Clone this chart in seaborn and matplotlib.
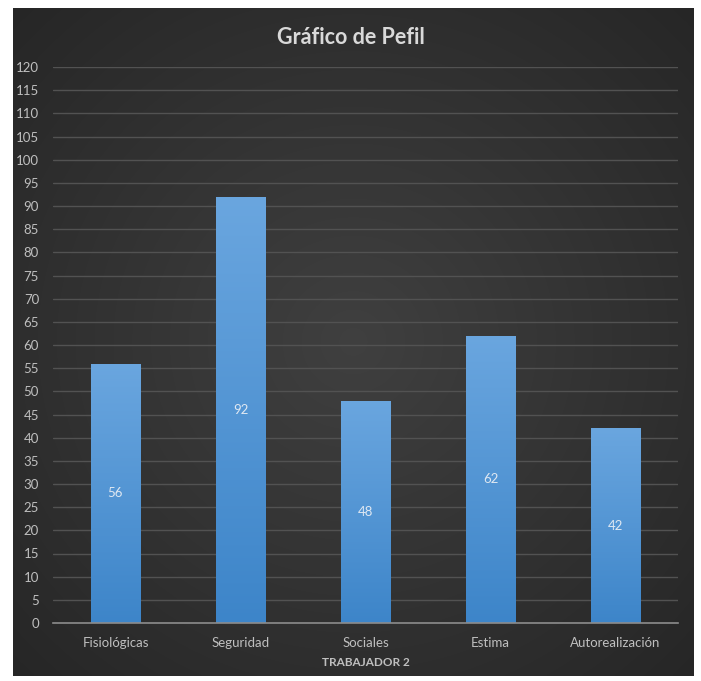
import numpy as np
import pandas as pd
import matplotlib
matplotlib.use("Agg")
import matplotlib.pyplot as plt
import seaborn as sns
from matplotlib.colors import LinearSegmentedColormap

categories = ["Fisiológicas", "Seguridad", "Sociales", "Estima", "Autorealización"]
values = [56, 92, 48, 62, 42]
yticks = list(range(0, 121, 5))
title = "Gráfico de Pefil"
xlabel = "TRABAJADOR 2"

sns.set_theme(style="dark")
plt.rcParams['font.family'] = ['Lato', 'DejaVu Sans']

W, H = 701, 681
fig = plt.figure(figsize=(W / 100, H / 100), dpi=100)
fig.patch.set_facecolor("white")

# background panel with radial gradient
bx0, by0, bx1, by1 = 13, 8, 694, 676
bg = fig.add_axes([bx0 / W, 1 - by1 / H, (bx1 - bx0) / W, (by1 - by0) / H])
yy, xx = np.mgrid[-1:1:300j, -1:1:300j]
r = np.sqrt(xx ** 2 + yy ** 2) / np.sqrt(2)
shade = 0.25 - 0.10 * r
img = np.dstack([shade, shade, shade])
bg.imshow(img, aspect="auto", extent=[0, 1, 0, 1], interpolation="bilinear")
bg.set_axis_off()

# plot area
px0, px1 = 53, 678
py_top, py_bot = 67, 623
ax = fig.add_axes([px0 / W, 1 - py_bot / H, (px1 - px0) / W, (py_bot - py_top) / H])
ax.set_facecolor("none")
ax.patch.set_alpha(0)

df = pd.DataFrame({"cat": categories, "val": values})
sns.barplot(data=df, x="cat", y="val", ax=ax, width=0.4, color="#5b9bd5",
            saturation=1, zorder=3, edgecolor="none", linewidth=0)
ax.set_ylim(0, 120)
ax.set_xlim(-0.5, len(categories) - 0.5)
ax.set_yticks(yticks)
ax.grid(axis="y", color="#525252", linewidth=1.0, zorder=0)
ax.grid(axis="x", visible=False)
for s in ["top", "right", "left"]:
    ax.spines[s].set_visible(False)
ax.spines["bottom"].set_color("#8c8c8c")
ax.spines["bottom"].set_linewidth(1.2)
ax.spines["bottom"].set_zorder(4)
ax.tick_params(axis="y", colors="#bfbfbf", labelsize=9.5, length=0, pad=10)
ax.tick_params(axis="x", colors="#bfbfbf", labelsize=9.5, length=0, pad=10)
ax.set_xlabel(xlabel, color="#bfbfbf", fontsize=8.5, fontweight="bold", labelpad=6)
ax.set_ylabel("")

# gradient fill on bars
grad = np.linspace(0, 1, 256).reshape(-1, 1)
cmap = LinearSegmentedColormap.from_list("bar", ["#3d85c9", "#6aa6df"])
for patch in list(ax.patches):
    x0 = patch.get_x(); w = patch.get_width(); h = patch.get_height()
    im = ax.imshow(grad, extent=[x0, x0 + w, 0, h], origin="lower", cmap=cmap,
                   aspect="auto", zorder=3.5)
    im.set_clip_path(patch)

for i, v in enumerate(values):
    ax.text(i, v / 2, str(v), ha="center", va="center", color="#dfe8f2", fontsize=9.5, zorder=5)

fig.text(0.5, 1 - 37 / H, title, ha="center", va="center", color="#d9d9d9",
         fontsize=15.5, fontweight="bold")

fig.savefig("out.png", dpi=100, facecolor="white")
